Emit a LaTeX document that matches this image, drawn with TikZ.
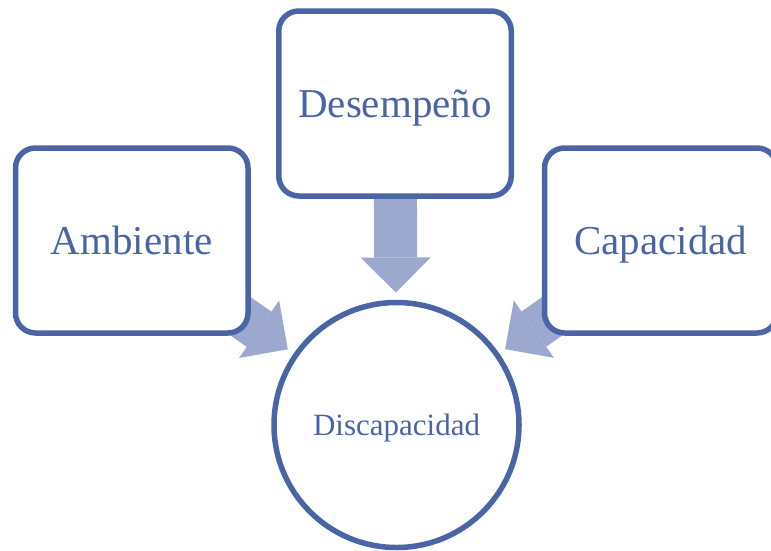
\documentclass[tikz,border=0pt]{standalone}
\usepackage{fontspec}
\setmainfont{Liberation Serif}
\usetikzlibrary{arrows.meta,backgrounds}
\definecolor{boxblue}{HTML}{4A65A5}
\definecolor{arrowblue}{HTML}{9CA8CE}
\begin{document}
\begin{tikzpicture}[x=1pt,y=-1pt,
  box/.style={draw=boxblue, line width=5.5pt, fill=white, rounded corners=20pt,
    inner sep=0pt, outer sep=0pt, minimum width=232.5pt, minimum height=185pt,
    text=boxblue, font=\fontsize{41}{41}\selectfont, text height=27pt, text depth=0pt},
  circ/.style={circle, draw=boxblue, line width=5.5pt, fill=white, inner sep=0pt,
    outer sep=0pt, minimum size=245pt, text=boxblue,
    font=\fontsize{31}{31}\selectfont, text height=20.5pt, text depth=0pt},
  bigarrow/.style={draw=arrowblue, line width=43pt,
    -{Triangle[width=70pt,length=35pt,line width=0pt]}, shorten >=10pt}]
\useasboundingbox (0,0) rectangle (771,550);
\node[box] (amb) at (131.75,240.5) {Ambiente};
\node[box] (des) at (395,103.5) {Desempeño};
\node[box] (cap) at (660.75,240.5) {Capacidad};
\node[circ] (disc) at (396.5,425) {Discapacidad};
\begin{scope}[on background layer]
\draw[bigarrow] (des.center) -- (disc);
\draw[bigarrow] (amb.center) -- (disc);
\draw[bigarrow] (cap.center) -- (disc);
\end{scope}
\end{tikzpicture}
\end{document}
